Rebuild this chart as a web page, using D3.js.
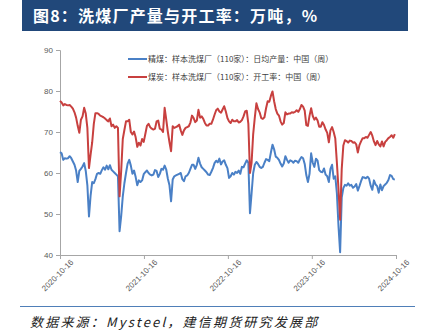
<!DOCTYPE html>
<html>
<head>
<meta charset="utf-8">
<script src="https://cdn.jsdelivr.net/npm/d3@7"></script>
<style>
  html, body { margin: 0; padding: 0; background: #fff; }
  svg { display: block; }
</style>
</head>
<body>
<svg id="chart" width="422" height="335"></svg>
<script>
// ---- data ----
const titleText = "图8：洗煤厂产量与开工率：万吨，%";
const sourceText = "数据来源：Mysteel，建信期货研究发展部";
const seriesNames = [
  "精煤：样本洗煤厂（110家）：日均产量：中国（周）",
  "煤炭：样本洗煤厂（110家）：开工率：中国（周）"
];
const startDate = "2020-10-16"; // weekly observations
const xTickLabels = ["2020-10-16", "2021-10-16", "2022-10-16", "2023-10-16", "2024-10-16"];
const yTicks = [40, 50, 60, 70, 80, 90];

// 精煤 日均产量 (万吨)
const outputValues = [
  65.1, 64.8, 63.2, 63.6, 63.5, 63.6, 64.1, 63.6, 62.8, 62.0,
  60.6, 57.8, 60.5, 61.0, 61.6, 62.4, 60.5, 57.0, 49.4, 54.5,
  57.8, 57.5, 58.5, 59.8, 60.0, 59.8, 60.7, 61.4, 60.8, 61.8,
  60.9, 61.9, 60.8, 60.4, 60.0, 59.6, 59.2, 45.8, 49.5, 54.3,
  57.5, 60.0, 62.3, 63.2, 61.8, 59.8, 60.6, 59.0, 57.0, 58.2,
  57.8, 58.2, 59.7, 60.2, 60.6, 60.0, 59.6, 59.4, 59.6, 60.7,
  60.5, 59.0, 59.8, 61.0, 60.8, 61.8, 60.8, 58.6, 57.0, 53.1,
  58.4, 59.2, 59.4, 59.6, 59.8, 60.0, 58.5, 58.0, 59.2, 59.4,
  60.0, 61.0, 62.0, 62.0, 61.0, 62.0, 63.7, 62.3, 61.4, 61.0,
  60.6, 60.2, 59.6, 59.5, 60.3, 61.2, 62.4, 63.0, 62.6, 63.5,
  62.1, 62.8, 63.1, 62.0, 61.2, 58.8, 59.2, 60.0, 59.6, 60.3,
  60.0, 60.6, 59.8, 61.5, 61.4, 62.3, 63.1, 62.5, 50.2, 55.0,
  60.0, 62.0, 62.7, 62.2, 61.5, 61.2, 61.5, 62.5, 63.4, 63.2,
  62.9, 65.0, 66.9, 65.8, 64.0, 63.7, 63.2, 62.3, 61.6, 62.3,
  64.1, 63.2, 62.5, 63.1, 62.9, 62.5, 63.0, 62.9, 62.5, 63.3,
  63.9, 63.6, 62.2, 59.5, 57.8, 59.8, 64.8, 62.5, 61.5, 63.5,
  63.0, 60.7, 60.3, 60.2, 61.1, 59.6, 59.2, 57.8, 61.0, 62.0,
  58.6, 59.2, 55.0, 47.0, 40.7, 54.0, 56.3, 57.1, 56.9, 57.5,
  56.9, 57.1, 56.4, 56.7, 57.3, 55.7, 56.8, 58.0, 59.0, 58.9,
  58.7, 59.1, 58.6, 56.9, 55.9, 58.2, 57.2, 56.8, 55.2, 57.2,
  55.8, 56.8, 57.2, 57.6, 58.3, 59.5, 59.3, 58.5, 58.4
];

// 煤炭 开工率 (%)
const rateValues = [
  77.6, 77.2, 76.5, 76.8, 76.6, 76.5, 76.6, 76.2, 75.7, 74.8,
  73.5, 71.5, 69.8, 73.0, 73.8, 75.9, 74.5, 71.0, 61.2, 64.5,
  67.5, 72.0, 74.6, 74.6, 74.4, 74.0, 73.8, 73.6, 73.3, 72.9,
  72.6, 73.3, 71.4, 71.8, 71.0, 71.4, 71.0, 54.3, 60.5, 68.3,
  70.5, 72.6, 72.6, 73.0, 70.0, 69.4, 70.1, 68.7, 66.4, 67.4,
  66.7, 68.3, 67.6, 69.5, 71.5, 72.0, 71.2, 70.8, 70.6, 70.8,
  72.6, 72.8, 70.8, 70.6, 70.0, 75.9, 73.0, 70.0, 67.5, 65.3,
  71.4, 71.0, 71.2, 71.4, 71.8, 70.4, 69.3, 70.4, 71.0, 71.2,
  71.4, 72.3, 74.0, 73.4, 72.4, 72.8, 75.4, 73.5, 73.8, 73.2,
  72.2, 71.6, 71.6, 72.0, 72.0, 73.0, 74.2, 75.3, 75.7, 75.0,
  74.7, 75.5, 76.3, 75.0, 73.4, 72.6, 72.2, 73.0, 72.6, 72.6,
  72.9, 72.3, 72.5, 72.9, 73.8, 75.0, 75.2, 72.0, 60.0, 62.5,
  69.5, 73.5, 77.0, 75.6, 74.8, 73.4, 73.2, 73.6, 75.8, 77.5,
  77.4, 78.8, 79.9, 77.5, 75.6, 74.5, 74.0, 72.6, 71.8, 72.2,
  74.8, 74.3, 74.5, 74.5, 74.8, 74.7, 74.9, 75.3, 74.9, 75.6,
  76.6, 76.2, 75.2, 71.7, 71.5, 74.0, 75.8, 73.9, 73.0, 73.5,
  72.8, 71.3, 71.3, 72.4, 71.7, 70.6, 69.8, 67.5, 70.4, 71.2,
  70.0, 68.4, 62.5, 56.0, 48.6, 61.0, 66.7, 68.0, 67.8, 67.4,
  67.9, 67.8, 67.4, 67.5, 67.0, 65.0, 66.8, 67.7, 68.5, 68.5,
  68.8, 68.6, 69.3, 70.0, 69.1, 67.7, 66.8, 67.8, 67.0, 66.5,
  67.7, 66.5, 67.6, 68.0, 68.5, 68.8, 69.2, 68.6, 69.5
];

const seriesColors = ["#4a80c6", "#c8403f"];

// ---- chart ----
const svg = d3.select("#chart");
const parse = d3.timeParse("%Y-%m-%d");
const fmt = d3.timeFormat("%Y-%m-%d");
const t0 = parse(startDate);
const dates = outputValues.map((_, i) => d3.timeDay.offset(t0, 7 * i));

const x = d3.scaleTime()
  .domain([parse(xTickLabels[0]), parse(xTickLabels[xTickLabels.length - 1])])
  .range([60, 396]);
const y = d3.scaleLinear().domain([40, 90]).range([255, 50]);

// title bar
svg.append("rect").attr("x", 22).attr("y", 0).attr("width", 386).attr("height", 31)
  .attr("fill", "#21487a");
svg.append("text").attr("x", 33).attr("y", 22)
  .attr("fill", "#fff")
  .attr("font-family", "'Noto Sans CJK SC', sans-serif")
  .attr("font-weight", "bold")
  .attr("font-size", 16)
  .attr("letter-spacing", 1.2)
  .text(titleText);

// axes
const axisColor = "#a6a6a6";
const labelColor = "#595959";
const yAxis = svg.append("g").attr("transform", "translate(60,0)")
  .call(d3.axisLeft(y).tickValues(yTicks).tickSize(4).tickPadding(3));
const xAxis = svg.append("g").attr("transform", "translate(0,255)")
  .call(d3.axisBottom(x).tickValues(xTickLabels.map(parse)).tickFormat(fmt).tickSize(4));
[yAxis, xAxis].forEach(g => {
  g.select(".domain").attr("stroke", axisColor);
  g.selectAll(".tick line").attr("stroke", axisColor);
  g.selectAll("text").attr("fill", labelColor)
    .attr("font-family", "'Liberation Sans', Arial, sans-serif")
    .attr("font-size", 8);
});
xAxis.selectAll("text")
  .attr("text-anchor", "end")
  .attr("dx", "0.5em")
  .attr("dy", "1.0em")
  .attr("transform", "rotate(-45)");

// lines
const line = d3.line().x((d, i) => x(dates[i])).y(d => y(d));
[outputValues, rateValues].forEach((vals, k) => {
  svg.append("path").datum(vals)
    .attr("fill", "none")
    .attr("stroke", seriesColors[k])
    .attr("stroke-width", 2)
    .attr("stroke-linejoin", "round")
    .attr("d", line);
});

// legend
const legend = svg.append("g");
seriesNames.forEach((name, k) => {
  const ly = 59 + k * 18;
  legend.append("line").attr("x1", 128).attr("x2", 147).attr("y1", ly).attr("y2", ly)
    .attr("stroke", seriesColors[k]).attr("stroke-width", 2);
  legend.append("text").attr("x", 148).attr("y", ly + 3)
    .attr("fill", "#404040")
    .attr("font-family", "'Noto Sans CJK SC', sans-serif")
    .attr("font-size", 8)
    .text(name);
});

// footer
svg.append("line").attr("x1", 20).attr("x2", 415).attr("y1", 306.5).attr("y2", 306.5)
  .attr("stroke", "#4f7fb8").attr("stroke-width", 1);
svg.append("text").attr("x", 30).attr("y", 327)
  .attr("fill", "#222")
  .attr("font-family", "'Noto Sans CJK SC', sans-serif")
  .attr("font-style", "italic")
  .attr("font-size", 13)
  .attr("letter-spacing", 2.2)
  .text(sourceText);
</script>
</body>
</html>
